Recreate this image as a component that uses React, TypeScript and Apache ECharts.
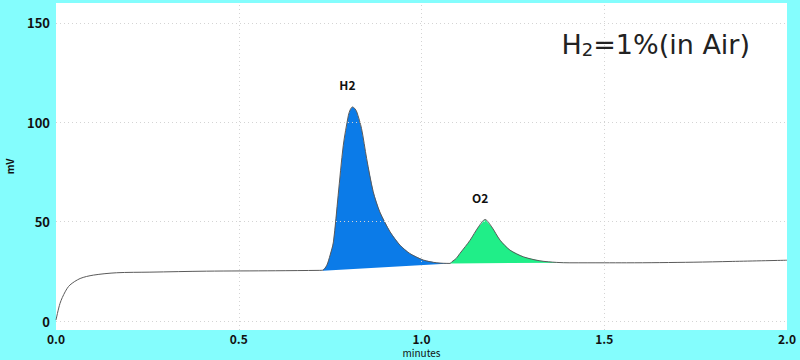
import React, { useEffect, useRef } from "react";
import * as echarts from "echarts";

// [minutes, mV]
const baselineStart: number[][] = [
  [0.0, 0.5], [0.011, 8.9], [0.025, 14.7], [0.038, 18.1], [0.066, 21.4],
  [0.102, 23.1], [0.166, 24.3], [0.257, 24.6], [0.412, 25.1], [0.6, 25.3], [0.72, 25.5],
];
const h2Peak: number[][] = [
  [0.73, 25.6], [0.741, 28.1], [0.75, 33.2], [0.759, 39.8], [0.772, 63.3], [0.786, 88.4],
  [0.8, 103.5], [0.805, 106.3], [0.811, 107.7], [0.817, 107.0], [0.823, 105.2], [0.836, 96.8],
  [0.85, 81.7], [0.868, 65.0], [0.886, 54.9], [0.914, 44.9], [0.941, 38.2], [0.968, 34.0],
  [1.005, 30.7], [1.042, 29.3], [1.078, 29.0],
];
const o2Peak: number[][] = [
  [1.083, 29.8], [1.095, 31.5], [1.105, 34.0], [1.12, 37.5], [1.133, 40.7], [1.156, 47.4],
  [1.174, 51.1], [1.192, 47.4], [1.215, 40.7], [1.242, 35.7], [1.279, 32.3], [1.324, 30.3],
  [1.37, 29.5], [1.406, 29.3],
];
const baselineEnd: number[][] = [
  [1.5, 29.3], [1.561, 29.3], [1.743, 29.6], [1.85, 30.0], [2.0, 30.6],
];
// straight drop lines under the peaks
const h2Base: number[][] = [[1.078, 29.0], [0.73, 25.3]];
const o2Base: number[][] = [[1.406, 29.3], [1.078, 29.0]];

const peakNames = ["H2", "O2"];
const yTicks = [0, 50, 100, 150];
const xTicks = [0.5, 1.0, 1.5];

export default function App() {
  const ref = useRef<HTMLDivElement>(null);
  useEffect(() => {
    if (!ref.current) return;
    const chart = echarts.init(ref.current, null, { renderer: "svg" });
    const allData = [...baselineStart, ...h2Peak, ...o2Peak, ...baselineEnd];
    const fills = [
      { points: [...h2Peak, ...h2Base], color: "#0b7be8" },
      { points: [[1.078, 29.0], ...o2Peak, ...o2Base.slice(0, 1)], color: "#20ee88" },
    ];
    const peaks = [h2Peak, o2Peak].map((arr) =>
      arr.reduce((m, p) => (p[1] > m[1] ? p : m), arr[0])
    );
    const labelFont = "'Noto Sans CJK JP', 'DejaVu Sans', sans-serif";
    chart.setOption({
      animation: false,
      backgroundColor: "#84fdfd",
      grid: {
        left: 56, right: 13, top: 3, bottom: 30,
        containLabel: false, outerBoundsMode: "none",
        show: true, backgroundColor: "#ffffff", borderWidth: 0,
      },
      xAxis: {
        type: "value", min: 0, max: 2, interval: 0.5,
        name: "minutes", nameLocation: "middle", nameGap: 17, nameMoveOverlap: false,
        nameTextStyle: { fontSize: 10, color: "#111", fontFamily: labelFont, lineHeight: 10 },
        axisLine: { show: false }, axisTick: { show: false }, splitLine: { show: false },
        axisLabel: {
          margin: 2, fontSize: 12, lineHeight: 12, fontWeight: "bold", color: "#111", fontFamily: labelFont,
          formatter: (v: number) => v.toFixed(1),
        },
      },
      yAxis: {
        type: "value", min: -4.5, max: 160,
        name: "mV", nameLocation: "middle", nameGap: 41, nameMoveOverlap: false,
        nameTextStyle: { fontSize: 10, fontWeight: "bold", color: "#111", fontFamily: labelFont, lineHeight: 11 },
        axisLine: { show: false }, axisTick: { show: false, customValues: yTicks }, splitLine: { show: false },
        axisLabel: {
          customValues: yTicks, margin: 6, fontSize: 13, fontWeight: "bold", color: "#111", fontFamily: labelFont,
        },
      },
      graphic: [
        {
          type: "text", right: 50, top: 31,
          style: {
            text: "{a|H}{b|2}{a|=1%(in Air)}",
            rich: {
              a: { fontSize: 27, fontFamily: "'DejaVu Sans', sans-serif", fill: "#222" },
              b: { fontSize: 18, fontFamily: "'DejaVu Sans', sans-serif", fill: "#222", verticalAlign: "bottom", padding: [7, 0, 0, 0] },
            },
          },
        },
      ],
      series: [
        {
          type: "line", data: [], z: 1, silent: true,
          markLine: {
            silent: true, symbol: "none", label: { show: false },
            lineStyle: { type: [1, 3], color: "#d4d4d4", width: 1 },
            data: [...yTicks.map((v) => ({ yAxis: v })), ...xTicks.map((v) => ({ xAxis: v }))],
          },
        },
        {
          type: "custom", z: 2, silent: true,
          data: fills.map((_, i) => [i, 0]),
          renderItem: (params: any, api: any) => {
            const f = fills[params.dataIndex];
            return {
              type: "polygon",
              shape: { points: f.points.map((p) => api.coord(p)) },
              style: { fill: f.color, stroke: "none" },
            };
          },
        },
        {
          type: "line", z: 3, data: allData, showSymbol: false, smooth: 0.3,
          lineStyle: { color: "#5a5a5a", width: 1 },
          markPoint: {
            symbol: "circle", symbolSize: 0, silent: true,
            itemStyle: { color: "transparent" },
            label: {
              show: true, position: "inside", fontSize: 12, fontWeight: "bold", color: "#111", fontFamily: labelFont,
              offset: [-5, -22],
              formatter: (p: any) => p.name,
            },
            data: peaks.map((p, i) => ({ name: peakNames[i], coord: p })),
          },
        },
      ],
    });
    return () => chart.dispose();
  }, []);
  return (
    <div
      ref={ref}
      style={{ position: "fixed", left: 0, top: 0, width: 800, height: 360 }}
    />
  );
}
